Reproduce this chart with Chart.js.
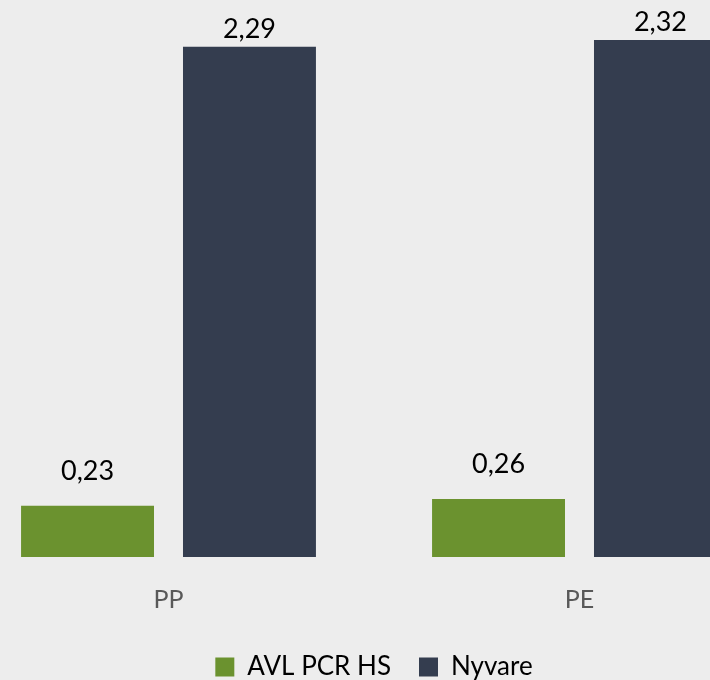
<!DOCTYPE html>
<html>
<head>
<meta charset="utf-8">
<script src="https://cdn.jsdelivr.net/npm/chart.js@4/dist/chart.umd.min.js"></script>
<style>
  html, body { margin: 0; padding: 0; background: #ededed; overflow: hidden; }
  #wrap { position: absolute; left: -37px; top: 0; width: 822px; height: 680px; }
</style>
</head>
<body>
<div id="wrap"><canvas id="chart"></canvas></div>
<script>
const categories = ['PP', 'PE'];
const avlValues = [0.23, 0.26];
const nyvareValues = [2.29, 2.32];
const seriesNames = ['AVL PCR HS', 'Nyvare'];

const fmt = v => v.toFixed(2).replace('.', ',');

// value labels above each bar
const barLabels = {
  id: 'barLabels',
  afterDatasetsDraw(chart) {
    const ctx = chart.ctx;
    ctx.save();
    ctx.font = '27px Lato';
    ctx.fillStyle = '#000';
    ctx.textAlign = 'center';
    ctx.textBaseline = 'bottom';
    chart.data.datasets.forEach((ds, i) => {
      const meta = chart.getDatasetMeta(i);
      meta.data.forEach((bar, j) => {
        ctx.fillText(fmt(ds.data[j]), bar.x, bar.y - ds.labelGap);
      });
    });
    ctx.restore();
  }
};

new Chart(document.getElementById('chart'), {
  type: 'bar',
  data: {
    labels: categories,
    datasets: [
      { label: seriesNames[0], data: avlValues, backgroundColor: '#6b922f', labelGap: 21 },
      { label: seriesNames[1], data: nyvareValues, backgroundColor: '#343d4f', labelGap: 4 }
    ]
  },
  options: {
    responsive: true,
    maintainAspectRatio: false,
    animation: false,
    categoryPercentage: 0.788,
    barPercentage: 0.821,
    layout: { padding: { bottom: -10 } },
    scales: {
      x: {
        grid: { display: false },
        border: { display: false },
        ticks: { color: '#595959', font: { family: 'Lato', size: 25 }, padding: 20 },
        afterFit(scale) { scale.height -= 9; }
      },
      y: { display: false, min: 0, max: 2.5 }
    },
    plugins: {
      tooltip: { enabled: false },
      legend: {
        position: 'bottom',
        labels: {
          color: '#000',
          font: { family: 'Lato', size: 26 },
          boxWidth: 19,
          boxHeight: 19,
          padding: 28
        }
      }
    }
  },
  plugins: [barLabels]
});
</script>
</body>
</html>
